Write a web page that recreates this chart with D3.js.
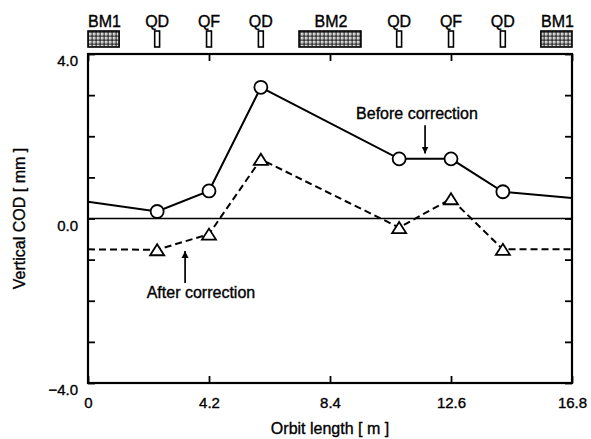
<!DOCTYPE html>
<html>
<head>
<meta charset="utf-8">
<script src="https://cdn.jsdelivr.net/npm/d3@7.9.0/dist/d3.min.js"></script>
<style>
  body { margin: 0; background: #fff; }
  svg { display: block; font-family: "Liberation Sans", Arial, sans-serif; }
  svg text { fill: #000; stroke: #000; stroke-width: 0.35px; }
</style>
</head>
<body>
<svg id="chart" width="591" height="439"></svg>
<script>
// orbit positions of the monitors [m]
const orbitPos = [0, 2.4, 4.2, 6.0, 10.8, 12.6, 14.4, 16.8];
// vertical COD [mm]
const codBefore = [0.41, 0.17, 0.67, 3.19, 1.45, 1.45, 0.65, 0.50];
const codAfter = [-0.75, -0.76, -0.38, 1.44, -0.22, 0.48, -0.75, -0.75];
// which points carry a marker
const hasMarker = [false, true, true, true, true, true, true, false];

// lattice elements drawn above the plot
const elemNames = ['BM1', 'QD', 'QF', 'QD', 'BM2', 'QD', 'QF', 'QD', 'BM1'];
const elemCenter = [0.54, 2.4, 4.2, 6.0, 8.4, 10.8, 12.6, 14.4, 16.26];
const elemLength = [1.08, 0.17, 0.17, 0.17, 2.15, 0.17, 0.17, 0.17, 1.08];
const elemIsDipole = [true, false, false, false, true, false, false, false, true];

const xTicks = [0, 4.2, 8.4, 12.6, 16.8];
const yTicks = [-4, -3, -2, -1, 0, 1, 2, 3, 4];

const W = 591, H = 439;
const margin = { top: 54, right: 19, bottom: 56, left: 88 };

const svg = d3.select('#chart');

const x = d3.scaleLinear().domain([0, 16.8]).range([margin.left, W - margin.right]);
const y = d3.scaleLinear().domain([-4, 4]).range([H - margin.bottom, margin.top]);

// hatch pattern for the bending magnets
const defs = svg.append('defs');
const pat = defs.append('pattern')
    .attr('id', 'dots')
    .attr('width', 4).attr('height', 4)
    .attr('patternUnits', 'userSpaceOnUse');
pat.append('rect').attr('width', 4).attr('height', 4).attr('fill', '#222');
pat.append('rect').attr('x', 0.7).attr('y', 0.7).attr('width', 2.8).attr('height', 2.8).attr('fill', '#fff');
pat.append('rect').attr('x', 1.6).attr('y', 1.6).attr('width', 1).attr('height', 1).attr('fill', '#444');

defs.append('marker')
    .attr('id', 'arrow')
    .attr('viewBox', '0 0 10 10')
    .attr('refX', 10).attr('refY', 5)
    .attr('markerWidth', 7).attr('markerHeight', 8)
    .attr('markerUnits', 'userSpaceOnUse')
    .attr('orient', 'auto')
    .append('path')
    .attr('d', 'M0,0 L10,5 L0,10 Z')
    .attr('fill', '#000');

// axes (inside ticks on all four sides)
const fmtY = (d) => (d % 4 === 0 ? d3.format('.1f')(d) : '');
const fmtX = (d) => (d === 0 ? '0' : d3.format('.1f')(d));

const gLeft = svg.append('g')
    .attr('transform', `translate(${margin.left},0)`)
    .call(d3.axisLeft(y).tickValues(yTicks).tickSize(-7).tickPadding(10).tickFormat(fmtY));
gLeft.selectAll('text').attr('dy', '0.78em');

svg.append('g')
    .attr('transform', `translate(${W - margin.right},0)`)
    .call(d3.axisRight(y).tickValues(yTicks).tickSize(-7).tickFormat(''));

svg.append('g')
    .attr('transform', `translate(0,${H - margin.bottom})`)
    .call(d3.axisBottom(x).tickValues(xTicks).tickSize(-7).tickPadding(14).tickFormat(fmtX));

svg.append('g')
    .attr('transform', `translate(0,${margin.top})`)
    .call(d3.axisTop(x).tickValues(xTicks).tickSize(-7).tickFormat(''));

svg.selectAll('.domain').remove();
svg.selectAll('.tick line').attr('stroke', '#000').attr('stroke-width', 1.8);
svg.selectAll('.tick text').attr('font-size', 15);

// frame
svg.append('rect')
    .attr('x', margin.left).attr('y', margin.top)
    .attr('width', W - margin.left - margin.right)
    .attr('height', H - margin.top - margin.bottom)
    .attr('fill', 'none').attr('stroke', '#000').attr('stroke-width', 2.2);

// zero line
svg.append('line')
    .attr('x1', x(0)).attr('x2', x(16.8))
    .attr('y1', y(0)).attr('y2', y(0))
    .attr('stroke', '#000').attr('stroke-width', 1.6);

// lattice elements
elemNames.forEach((name, i) => {
    const x0 = x(elemCenter[i] - elemLength[i] / 2);
    const w = x(elemCenter[i] + elemLength[i] / 2) - x0;
    svg.append('rect')
        .attr('x', x0).attr('y', 31)
        .attr('width', w).attr('height', 16)
        .attr('fill', elemIsDipole[i] ? 'url(#dots)' : '#fff')
        .attr('stroke', '#000').attr('stroke-width', 1.6);
    svg.append('text')
        .attr('x', x(elemCenter[i]) + (elemIsDipole[i] ? 1 : 0))
        .attr('y', 27)
        .attr('text-anchor', 'middle')
        .attr('font-size', 16)
        .text(name);
});

const pts = (vals) => orbitPos.map((p, i) => [p, vals[i]]);
const line = d3.line().x((d) => x(d[0])).y((d) => y(d[1]));

svg.append('path')
    .attr('d', line(pts(codBefore)))
    .attr('fill', 'none').attr('stroke', '#000').attr('stroke-width', 2);

svg.append('path')
    .attr('d', line(pts(codAfter)))
    .attr('fill', 'none').attr('stroke', '#000').attr('stroke-width', 2)
    .attr('stroke-dasharray', '7,4');

svg.append('g').selectAll('circle')
    .data(pts(codBefore).filter((d, i) => hasMarker[i]))
    .join('circle')
    .attr('cx', (d) => x(d[0])).attr('cy', (d) => y(d[1]))
    .attr('r', 6.5)
    .attr('fill', '#fff').attr('stroke', '#000').attr('stroke-width', 1.8);

svg.append('g').selectAll('path')
    .data(pts(codAfter).filter((d, i) => hasMarker[i]))
    .join('path')
    .attr('transform', (d) => `translate(${x(d[0])},${y(d[1])})`)
    .attr('d', 'M0,-5.5 L7,5.5 L-7,5.5 Z')
    .attr('fill', '#fff').attr('stroke', '#000').attr('stroke-width', 1.8);

// annotations
svg.append('text')
    .attr('x', x(11.42)).attr('y', y(2.42))
    .attr('text-anchor', 'middle').attr('font-size', 16)
    .text('Before correction');
svg.append('line')
    .attr('x1', x(11.7)).attr('x2', x(11.7))
    .attr('y1', y(2.27)).attr('y2', y(1.58))
    .attr('stroke', '#000').attr('stroke-width', 1.7)
    .attr('marker-end', 'url(#arrow)');

svg.append('text')
    .attr('x', x(3.92)).attr('y', y(-1.93))
    .attr('text-anchor', 'middle').attr('font-size', 16)
    .text('After correction');
svg.append('line')
    .attr('x1', x(3.37)).attr('x2', x(3.37))
    .attr('y1', y(-1.57)).attr('y2', y(-0.79))
    .attr('stroke', '#000').attr('stroke-width', 1.7)
    .attr('marker-end', 'url(#arrow)');

// axis titles
svg.append('text')
    .attr('x', x(8.4)).attr('y', 434)
    .attr('text-anchor', 'middle').attr('font-size', 16)
    .text('Orbit length [ m ]');

svg.append('text')
    .attr('transform', `translate(25,${y(0)}) rotate(-90)`)
    .attr('text-anchor', 'middle').attr('font-size', 16)
    .text('Vertical COD [ mm ]');
</script>
</body>
</html>
